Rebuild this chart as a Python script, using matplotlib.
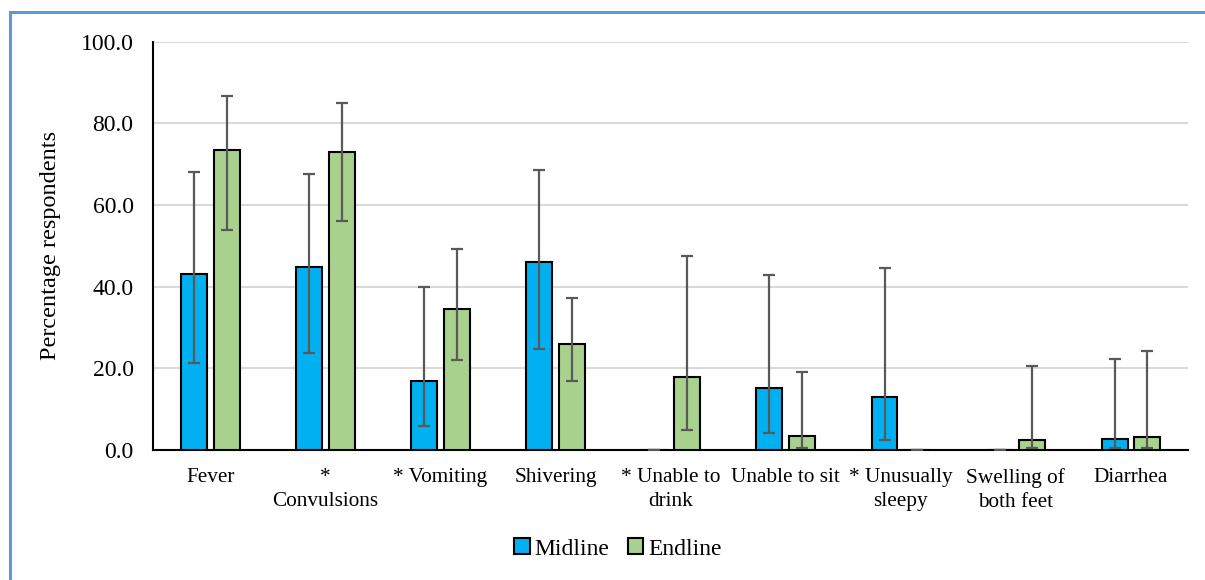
import numpy as np
import matplotlib.pyplot as plt
from matplotlib.patches import Rectangle

# Symptom categories (asterisk = significant change)
categories = ["Fever", "*\nConvulsions", "* Vomiting", "Shivering", "* Unable to\ndrink",
              "Unable to sit", "* Unusually\nsleepy", "Swelling of\nboth feet", "Diarrhea"]

# Percentages with lower / upper confidence limits
midline = [43.2, 44.9, 16.9, 46.0, 0.0, 15.2, 12.9, 0.0, 2.7]
midline_lo = [21.4, 23.8, 5.9, 24.8, 0.0, 4.2, 2.5, 0.0, 0.4]
midline_hi = [68.0, 67.7, 40.0, 68.7, 0.0, 42.8, 44.6, 0.0, 22.2]

endline = [73.5, 73.0, 34.5, 26.0, 17.8, 3.5, 0.0, 2.5, 3.2]
endline_lo = [53.9, 56.0, 22.1, 17.0, 5.0, 0.6, 0.0, 0.5, 0.4]
endline_hi = [86.8, 85.0, 49.3, 37.3, 47.5, 19.0, 0.0, 20.7, 24.3]

plt.rcParams['font.family'] = ['Liberation Serif', 'DejaVu Serif']

fig = plt.figure(figsize=(12.05, 5.8), dpi=100)
ax = fig.add_axes([0.127, 0.224, 0.859, 0.704])

x = np.arange(len(categories))
w = 0.226
off = 0.14

def yerr(v, lo, hi):
    v, lo, hi = np.array(v), np.array(lo), np.array(hi)
    return np.vstack([v - lo, hi - v])

err_kw = dict(ecolor='#595959', elinewidth=1.6, capsize=4.5, capthick=1.6)
ax.bar(x - off, midline, w, color='#00B0F0', edgecolor='black', linewidth=1.5,
       yerr=yerr(midline, midline_lo, midline_hi), error_kw=err_kw, label='Midline', zorder=3)
ax.bar(x + off, endline, w, color='#A9D18E', edgecolor='black', linewidth=1.5,
       yerr=yerr(endline, endline_lo, endline_hi), error_kw=err_kw, label='Endline', zorder=3)

ax.set_xlim(-0.5, len(categories) - 0.5)
ax.set_ylim(0, 100)
ax.set_yticks(np.arange(0, 101, 20))
ax.set_yticklabels([f"{v:.1f}" for v in np.arange(0, 101, 20)], fontsize=17)
ax.set_xticks(x)
ax.set_xticklabels(categories, fontsize=15.3, linespacing=1.35, va='top')
ax.tick_params(axis='both', length=0)
ax.tick_params(axis='x', pad=13)
ax.tick_params(axis='y', pad=14)
ax.grid(axis='y', color='#D9D9D9', linewidth=1.5, zorder=0)
ax.set_axisbelow(True)
for s in ['top', 'right']:
    ax.spines[s].set_visible(False)
ax.spines['left'].set_linewidth(1.5)
ax.spines['bottom'].set_linewidth(1.5)
ax.set_ylabel("Percentage respondents", fontsize=17.5, labelpad=14)

fig.legend(loc='center', bbox_to_anchor=(618 / 1205, 1 - 549 / 580), ncol=2, frameon=False,
           fontsize=17, handlelength=0.65, handleheight=0.65, handletextpad=0.2, columnspacing=0.8)

# blue chart-area frame
fig.patches.append(Rectangle((10 / 1205, -0.1), 1.2, 1.1 - 12 / 580, transform=fig.transFigure,
                             fill=False, edgecolor='#5B9BD5', linewidth=2.2))

fig.savefig("out.png", dpi=100)
